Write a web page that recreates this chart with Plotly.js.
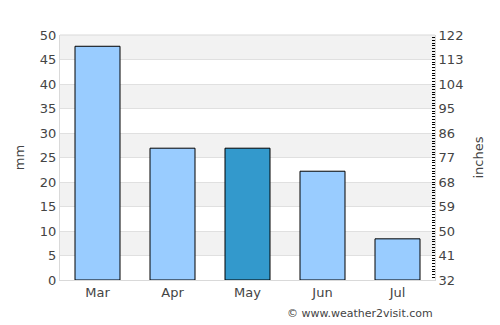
<!DOCTYPE html>
<html>
<head>
<meta charset="utf-8">
<script src="https://cdn.plot.ly/plotly-3.0.1.min.js"></script>
<style>html,body{margin:0;padding:0;background:#fff;}#chart{width:500px;height:325px;}</style>
</head>
<body>
<div id="chart"></div>
<script>
const months = ["Mar", "Apr", "May", "Jun", "Jul"];
const rainfallMm = [47.7, 26.9, 26.9, 22.2, 8.4];
const barColors = ["#99ccff", "#99ccff", "#3399cc", "#99ccff", "#99ccff"];
const leftTicks = [0, 5, 10, 15, 20, 25, 30, 35, 40, 45, 50];
const rightTicks = [32, 41, 50, 59, 68, 77, 86, 95, 104, 113, 122];

const font = {family: "DejaVu Sans, sans-serif", size: 13, color: "#444"};

// alternating grey bands between gridlines
const shapes = [];
for (let i = 1; i < leftTicks.length - 1; i += 2) {
  shapes.push({type: "rect", xref: "paper", yref: "y", x0: 0, x1: 1,
    y0: leftTicks[i], y1: leftTicks[i + 1], fillcolor: "#f2f2f2", line: {width: 0}, layer: "below"});
}

const data = [
  {type: "bar", x: months, y: rainfallMm, width: 0.6,
   marker: {color: barColors, line: {color: "#000", width: 1}},
   hoverinfo: "none", showlegend: false},
  {type: "scatter", x: months, y: [null, null, null, null, null], yaxis: "y2",
   mode: "markers", showlegend: false, hoverinfo: "none"}
];

const layout = {
  width: 500, height: 325,
  margin: {l: 60, r: 65, t: 35, b: 45},
  paper_bgcolor: "#fff", plot_bgcolor: "rgba(0,0,0,0)",
  font: font,
  showlegend: false,
  shapes: shapes,
  bargap: 0.4,
  xaxis: {type: "category", showgrid: false, zeroline: false,
          showline: true, linecolor: "#d9d9d9", linewidth: 1,
          ticks: "", tickfont: font, mirror: false},
  yaxis: {range: [0, 50], tickvals: leftTicks, ticks: "", tickfont: font,
          showgrid: true, gridcolor: "#e0e0e0", gridwidth: 1, zeroline: false,
          showline: true, linecolor: "#d9d9d9", linewidth: 1,
          title: {text: "mm", font: font, standoff: 12}},
  yaxis2: {overlaying: "y", side: "right", range: [32, 122], tickvals: rightTicks,
           tickfont: font, showgrid: false, zeroline: false,
           showline: true, linecolor: "#d9d9d9", linewidth: 1,
           ticks: "inside", ticklen: 3, tickcolor: "#000", tickwidth: 1,
           minor: {dtick: 1, tick0: 32, ticks: "inside", ticklen: 3, tickcolor: "#000", tickwidth: 1, showgrid: false},
           title: {text: "inches", font: font, standoff: 11}},
  annotations: [{text: "© www.weather2visit.com", xref: "paper", yref: "paper",
                 x: 1, y: 0, yshift: -33, xanchor: "right", yanchor: "middle",
                 showarrow: false, font: {family: "DejaVu Sans, sans-serif", size: 11, color: "#444"}}]
};

// top border
layout.shapes.push({type: "line", xref: "paper", yref: "paper", x0: 0, x1: 1, y0: 1, y1: 1,
                    line: {color: "#d9d9d9", width: 1}});

Plotly.newPlot("chart", data, layout, {displayModeBar: false, staticPlot: true});
</script>
</body>
</html>
